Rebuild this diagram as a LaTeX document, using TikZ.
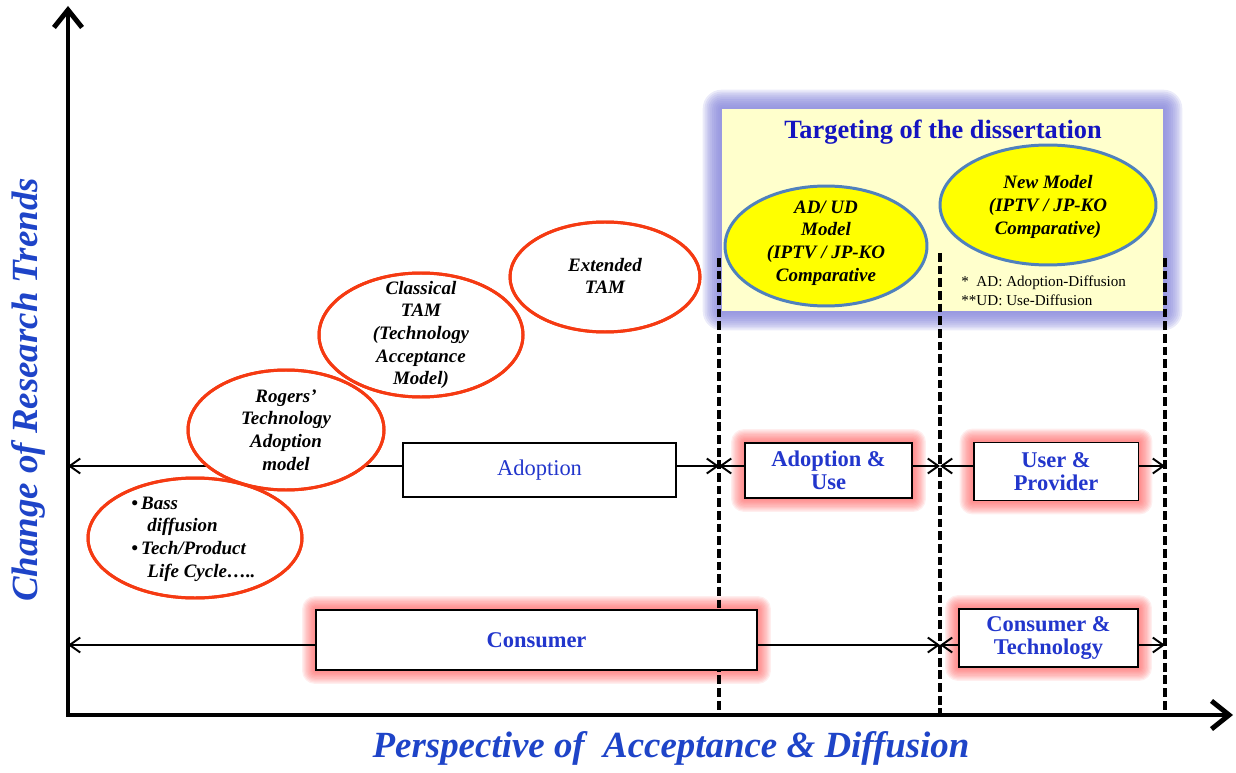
\documentclass[tikz,border=0pt]{standalone}
\usepackage{fontspec}
\setmainfont{Liberation Serif}
\usetikzlibrary{arrows.meta,shapes.geometric,calc,backgrounds}

\definecolor{txtblue}{HTML}{2236CC}
\definecolor{titleblue}{HTML}{1414C0}
\definecolor{axisblue}{HTML}{1E44C8}
\definecolor{ovalred}{HTML}{F53A12}
\definecolor{glowred}{HTML}{FF5A5A}
\definecolor{glowblue}{HTML}{8484DA}
\definecolor{paleyellow}{HTML}{FFFFCC}
\definecolor{ovalblue}{HTML}{4F81BD}
\definecolor{brightyellow}{HTML}{FFFF00}

% soft halo behind a node: #1 node, #2 colour, #3 spread (px), #4 layer opacity
\newcommand\haloaround[4]{%
  \foreach \k in {1,...,10}{%
    \pgfmathsetmacro\gw{#3*\k/10}%
    \pgfmathsetmacro\gr{\gw*0.569}%
    \fill[#2, opacity=#4, rounded corners=\gr pt]
      ($(#1.south west)+(-\gw,\gw)$) rectangle ($(#1.north east)+(\gw,-\gw)$);
  }}

\tikzset{
  axisline/.style={line width=2.8pt, {Straight Barb[length=10pt,width=16pt]}-{Straight Barb[length=10pt,width=16pt]}},
  rowline/.style={line width=1.1pt, {Straight Barb[length=6pt,width=8.5pt]}-{Straight Barb[length=6pt,width=8.5pt]}},
  divider/.style={line width=2.2pt, dash pattern=on 5pt off 2.2pt},
  plainbox/.style={draw, line width=1.1pt, fill=white, inner sep=0pt, align=center,
    text=txtblue, font=\fontsize{12.8}{13.2}\selectfont\bfseries},
  redoval/.style={ellipse, draw=ovalred, line width=1.7pt, fill=white, inner sep=0pt},
  yeloval/.style={ellipse, draw=ovalblue, line width=1.7pt, fill=brightyellow, inner sep=0pt},
  ovaltext/.style={align=center, inner sep=0pt, font=\fontsize{10.8}{12.9}\selectfont\bfseries\itshape},
  axislabel/.style={text=axisblue, inner sep=0pt, font=\fontsize{21}{24}\selectfont\bfseries\itshape},
}

\begin{document}
\begin{tikzpicture}[x=0.02cm, y=-0.02cm]
\useasboundingbox (0,0) rectangle (1236,773);

% pale yellow target panel
\node[fill=paleyellow, minimum width=8.82cm, minimum height=4.04cm, inner sep=0pt] (panel) at (942.5,210) {};
\node[text=titleblue, font=\fontsize{15}{17}\selectfont\bfseries] (title) at (943,132) {Targeting of the dissertation};

% axes
\coordinate (origin) at (68,715);
\coordinate (ytip) at (68,6);
\coordinate (xtip) at (1233,715);
\draw[axisline] (ytip) -- (origin) -- (xtip);
\node[axislabel, rotate=90] (ylab) at (28,390) {Change of Research Trends};
\node[axislabel] (xlab) at (671,748) {Perspective of~ Acceptance \& Diffusion};

% dashed dividers
\coordinate (d1t) at (719,258); \coordinate (d1b) at (719,715);
\coordinate (d2t) at (940,253); \coordinate (d2b) at (940,715);
\coordinate (d3t) at (1165,258); \coordinate (d3b) at (1165,715);
\draw[divider] (d1t) -- (d1b);
\draw[divider] (d2t) -- (d2b);
\draw[divider] (d3t) -- (d3b);

% row ends
\coordinate (r1a) at (68,466);  \coordinate (r1b) at (719,466);
\coordinate (r1c) at (940,466); \coordinate (r1d) at (1165,466);
\coordinate (r2a) at (68,645);  \coordinate (r2b) at (940,645);
\coordinate (r2c) at (1165,645);
\draw[rowline] (r1a) -- (r1b);
\draw[rowline] (r1b) -- (r1c);
\draw[rowline] (r1c) -- (r1d);
\draw[rowline] (r2a) -- (r2b);
\draw[rowline] (r2b) -- (r2c);

% boxes on the rows
\node[plainbox, minimum width=5.46cm, minimum height=1.08cm, font=\fontsize{12.8}{13}\selectfont] (adopt) at (539.5,470) {Adoption};
\node[plainbox, minimum width=3.34cm, minimum height=1.1cm] (adoptuse) at (828.5,470.5) {Adoption \&\\Use};
\node[plainbox, minimum width=3.3cm, minimum height=1.16cm] (userprov) at (1056,471.5) {User \&\\Provider};
\node[plainbox, minimum width=8.82cm, minimum height=1.2cm] (consumer) at (536.5,640) {Consumer};
\node[plainbox, minimum width=3.58cm, minimum height=1.16cm] (constech) at (1048.5,638) {Consumer \&\\Technology};

% halos
\begin{scope}[on background layer]
  \haloaround{panel}{glowblue}{19}{0.16}
  \haloaround{adoptuse}{glowred}{13}{0.10}
  \haloaround{userprov}{glowred}{13}{0.10}
  \haloaround{consumer}{glowred}{13}{0.10}
  \haloaround{constech}{glowred}{13}{0.10}
\end{scope}

% red model ovals: white fill first, then all outlines so crossings stay visible
\foreach \n/\cx/\cy/\a/\b in {bass/195/538/107/60, rogers/286/430/98/60, classical/421/335/102/62, extended/605/277/95/55}
  \node[redoval, minimum width=2*\a*0.02cm, minimum height=2*\b*0.02cm] (\n) at (\cx,\cy) {};
\foreach \n/\a/\b in {bass/107/60, rogers/98/60, classical/102/62, extended/95/55}
  \draw[draw=ovalred, line width=1.7pt] (\n.center) ellipse ({\a} and {\b});

\node[ovaltext, align=left, anchor=west] (basstxt) at (131,539)
  {\textbullet\,Bass\\\hspace*{0.85em}diffusion\\\textbullet\,Tech/Product\\\hspace*{0.85em}Life Cycle…..};
\node[ovaltext] (rogerstxt) at (rogers) {Rogers’\\Technology\\Adoption\\model};
\node[ovaltext] (classtxt) at (421,335) {Classical\\TAM\\(Technology\\Acceptance\\Model)};
\node[ovaltext] (exttxt) at (605,276) {Extended\\TAM};

% yellow model ovals
\node[yeloval, minimum width=4.04cm, minimum height=2.4cm] (adud) at (826,246) {};
\node[ovaltext] (adudtxt) at (826,243) {AD/ UD\\Model\\(IPTV / JP-KO\\Comparative};
\node[yeloval, minimum width=4.32cm, minimum height=2.4cm] (newmodel) at (1048,205) {};
\node[ovaltext] (newtxt) at (1048,207) {New Model\\(IPTV / JP-KO\\Comparative)};

\node[anchor=west, align=left, inner sep=0pt, font=\fontsize{8.6}{10.8}\selectfont] (notes) at (961,291)
  {*\ \ AD: Adoption-Diffusion\\**UD: Use-Diffusion};
\end{tikzpicture}
\end{document}
